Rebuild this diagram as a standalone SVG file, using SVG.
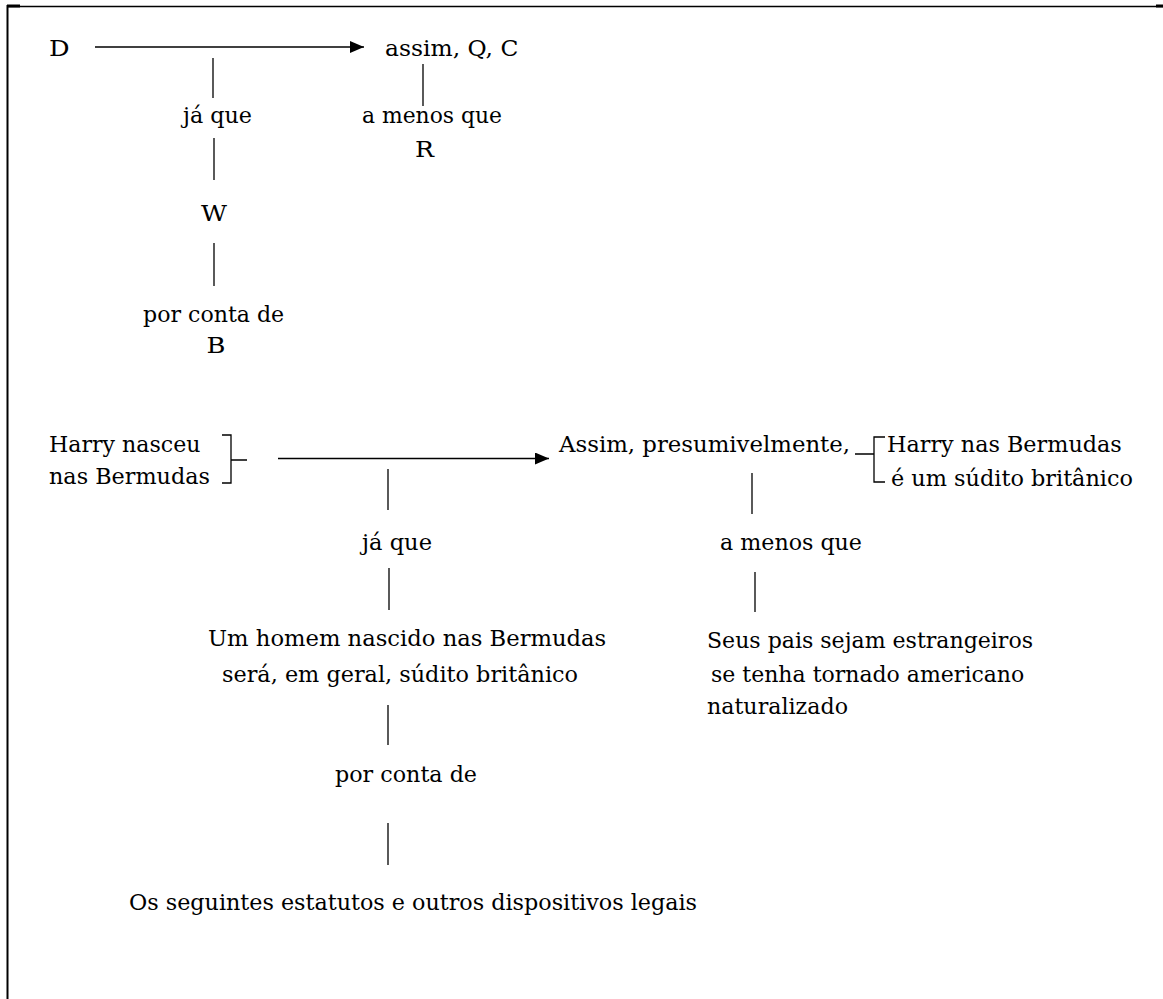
<svg xmlns="http://www.w3.org/2000/svg" width="1163" height="999" viewBox="0 0 1163 999">
  <style>
    text { font-family: "DejaVu Serif", "Liberation Serif", serif; font-size: 21.5px; fill: #000; }
    .ln { stroke: #000; stroke-width: 1.3; fill: none; }
    .br { stroke: #000; stroke-width: 1.3; fill: none; }
    .frame { stroke: #000; fill: none; }
  </style>
  <defs>
    <marker id="arrow" markerUnits="userSpaceOnUse" markerWidth="15" markerHeight="13" refX="14" refY="6" orient="auto">
      <path d="M0,0 L14,6 L0,12 Z" fill="#000"/>
    </marker>
  </defs>
  <rect width="1163" height="999" fill="#fff"/>
  <g id="frame">
    <line class="frame" x1="7" y1="6.5" x2="1163" y2="6.5" stroke-width="1.5"/>
    <line class="frame" x1="7" y1="6" x2="20" y2="6" stroke-width="3"/>
    <line class="frame" x1="1156" y1="6" x2="1163" y2="6" stroke-width="3"/>
    <line class="frame" x1="7.5" y1="5" x2="7.5" y2="999" stroke-width="2"/>
  </g>
  <g id="connectors">
    <line class="ln" x1="95" y1="47" x2="364" y2="47" marker-end="url(#arrow)"/>
    <line class="ln" x1="213" y1="58" x2="213" y2="98"/>
    <line class="ln" x1="214" y1="138" x2="214" y2="180"/>
    <line class="ln" x1="214" y1="243" x2="214" y2="286"/>
    <line class="ln" x1="423" y1="64" x2="423" y2="106"/>
    <line class="ln" x1="278" y1="458.5" x2="549" y2="458.5" marker-end="url(#arrow)"/>
    <line class="ln" x1="388" y1="469" x2="388" y2="510"/>
    <line class="ln" x1="389" y1="568" x2="389" y2="610"/>
    <line class="ln" x1="388" y1="705" x2="388" y2="745"/>
    <line class="ln" x1="388" y1="823" x2="388" y2="865"/>
    <line class="ln" x1="752" y1="473" x2="752" y2="514"/>
    <line class="ln" x1="755" y1="572" x2="755" y2="612"/>
    <path class="br" d="M222,435 H231 V483 H222 M231,460 H247"/>
    <path class="br" d="M885,437 H874 V482 H885 M855,454 H874"/>
  </g>
  <g id="n-D"><text x="49" y="56" textLength="20.6" lengthAdjust="spacingAndGlyphs">D</text></g>
  <g id="n-QC"><text x="385" y="56" textLength="133.3" lengthAdjust="spacingAndGlyphs">assim, Q, C</text></g>
  <g id="n-jaque1"><text x="183" y="123" textLength="69" lengthAdjust="spacingAndGlyphs">já que</text></g>
  <g id="n-W"><text x="201" y="221" textLength="26" lengthAdjust="spacingAndGlyphs">W</text></g>
  <g id="n-porconta1"><text x="143" y="322" textLength="141.2" lengthAdjust="spacingAndGlyphs">por conta de</text></g>
  <g id="n-B"><text x="206.5" y="353" textLength="19" lengthAdjust="spacingAndGlyphs">B</text></g>
  <g id="n-amenos1"><text x="362" y="123" textLength="140" lengthAdjust="spacingAndGlyphs">a menos que</text></g>
  <g id="n-R"><text x="415" y="157" textLength="19" lengthAdjust="spacingAndGlyphs">R</text></g>
  <g id="n-harry">
    <text x="49" y="452" textLength="151.5" lengthAdjust="spacingAndGlyphs">Harry nasceu</text>
    <text x="49" y="484" textLength="161" lengthAdjust="spacingAndGlyphs">nas Bermudas</text>
  </g>
  <g id="n-assim"><text x="559" y="452" textLength="291" lengthAdjust="spacingAndGlyphs">Assim, presumivelmente,</text></g>
  <g id="n-claim">
    <text x="887" y="452" textLength="234.8" lengthAdjust="spacingAndGlyphs">Harry nas Bermudas</text>
    <text x="891" y="486" textLength="242" lengthAdjust="spacingAndGlyphs">é um súdito britânico</text>
  </g>
  <g id="n-jaque2"><text x="362" y="550" textLength="70" lengthAdjust="spacingAndGlyphs">já que</text></g>
  <g id="n-amenos2"><text x="720" y="550" textLength="142" lengthAdjust="spacingAndGlyphs">a menos que</text></g>
  <g id="n-warrant">
    <text x="208" y="646" textLength="398.2" lengthAdjust="spacingAndGlyphs">Um homem nascido nas Bermudas</text>
    <text x="222" y="682" textLength="356" lengthAdjust="spacingAndGlyphs">será, em geral, súdito britânico</text>
  </g>
  <g id="n-rebuttal">
    <text x="707" y="648" textLength="326" lengthAdjust="spacingAndGlyphs">Seus pais sejam estrangeiros</text>
    <text x="711" y="682" textLength="313.3" lengthAdjust="spacingAndGlyphs">se tenha tornado americano</text>
    <text x="707" y="714" textLength="141" lengthAdjust="spacingAndGlyphs">naturalizado</text>
  </g>
  <g id="n-porconta2"><text x="335" y="782" textLength="142" lengthAdjust="spacingAndGlyphs">por conta de</text></g>
  <g id="n-backing"><text x="129" y="910" textLength="568" lengthAdjust="spacingAndGlyphs">Os seguintes estatutos e outros dispositivos legais</text></g>
</svg>
